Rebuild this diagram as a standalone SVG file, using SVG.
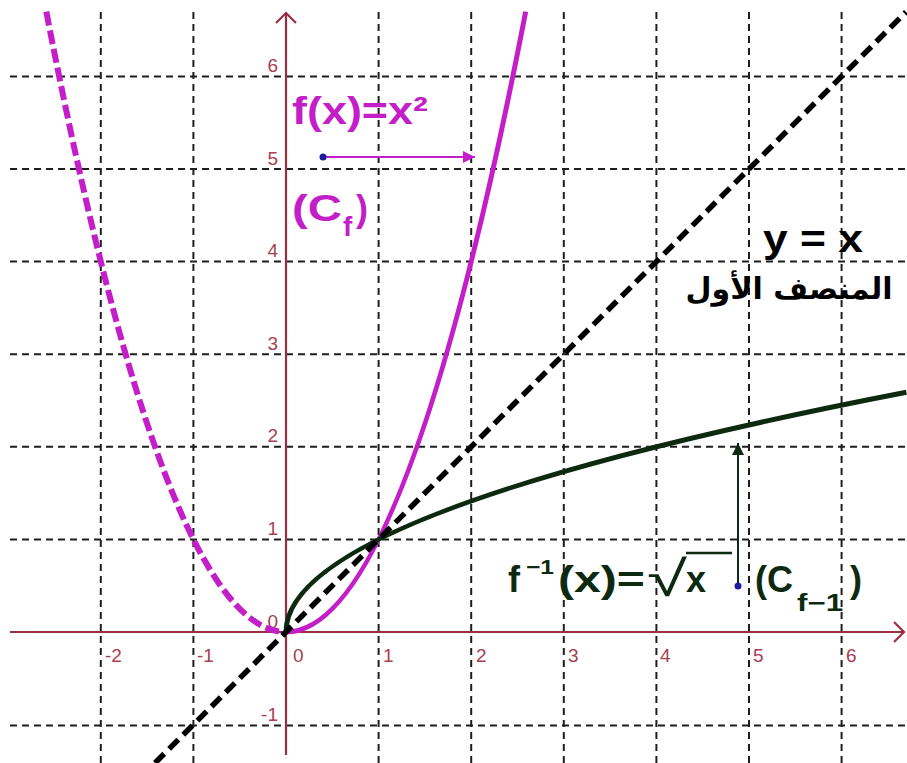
<svg xmlns="http://www.w3.org/2000/svg" width="907" height="763" viewBox="0 0 907 763">
<defs>
<style>
.grid{stroke:#1e1e1e;stroke-width:2;stroke-dasharray:7 5;fill:none}
.axis{stroke:#9a2f42;stroke-width:2.2;fill:none}
.tick{font-family:"Liberation Sans",Arial,sans-serif;font-size:19px;fill:#a8404f}
.mag{fill:#c41ec8;font-family:"Liberation Sans",Arial,sans-serif;font-weight:bold}
.grn{fill:#0d2a10;font-family:"Liberation Sans",Arial,sans-serif;font-weight:bold}
.blk{fill:#000;font-family:"Liberation Sans",Arial,sans-serif;font-weight:bold}
</style>
<marker id="ahM" viewBox="0 0 12 12" refX="12" refY="6" markerWidth="12" markerHeight="12" markerUnits="userSpaceOnUse" orient="auto">
<path d="M0,0 L12,6 L0,12 Z" fill="#c41ec8"/>
</marker>
<marker id="ahG" viewBox="0 0 12 12" refX="12" refY="6" markerWidth="14" markerHeight="12" markerUnits="userSpaceOnUse" orient="auto">
<path d="M0,0 L12,6 L0,12 Z" fill="#0d2a10"/>
</marker>
</defs>
<rect width="907" height="763" fill="#fff"/>
<g id="grid">
<line class="grid" x1="100.8" y1="12" x2="100.8" y2="763"/>
<line class="grid" x1="193.4" y1="12" x2="193.4" y2="763"/>
<line class="grid" x1="378.6" y1="12" x2="378.6" y2="763"/>
<line class="grid" x1="471.2" y1="12" x2="471.2" y2="763"/>
<line class="grid" x1="563.8" y1="12" x2="563.8" y2="763"/>
<line class="grid" x1="656.4" y1="12" x2="656.4" y2="763"/>
<line class="grid" x1="749" y1="12" x2="749" y2="763"/>
<line class="grid" x1="841.6" y1="12" x2="841.6" y2="763"/>
<line class="grid" x1="10" y1="76.4" x2="907" y2="76.4"/>
<line class="grid" x1="10" y1="169" x2="907" y2="169"/>
<line class="grid" x1="10" y1="261.6" x2="907" y2="261.6"/>
<line class="grid" x1="10" y1="354.2" x2="907" y2="354.2"/>
<line class="grid" x1="10" y1="446.8" x2="907" y2="446.8"/>
<line class="grid" x1="10" y1="539.4" x2="907" y2="539.4"/>
<line class="grid" x1="10" y1="725.6" x2="907" y2="725.6"/>
</g>
<g id="axes">
<line class="axis" x1="10" y1="632" x2="904" y2="632"/>
<path class="axis" d="M894,622 L904,632 L894,642"/>
<line class="axis" x1="286" y1="755" x2="286" y2="13"/>
<path class="axis" d="M276,23 L286,13 L296,23"/>
<g class="tick">
<text x="105" y="662">-2</text>
<text x="197" y="662">-1</text>
<text x="293" y="662">0</text>
<text x="383" y="662">1</text>
<text x="476" y="662">2</text>
<text x="568" y="662">3</text>
<text x="660" y="662">4</text>
<text x="753" y="662">5</text>
<text x="846" y="662">6</text>
<g text-anchor="end">
<text x="278" y="72">6</text>
<text x="278" y="165">5</text>
<text x="278" y="257">4</text>
<text x="278" y="350">3</text>
<text x="278" y="442">2</text>
<text x="278" y="535">1</text>
<text x="278" y="628">0</text>
<text x="278" y="721">-1</text>
</g>
</g>
</g>
<g id="connectors">
<path id="curve-f-neg" d="M46.3,11.6 Q166.2,632 286,632" fill="none" stroke="#c41ec8" stroke-width="6" stroke-dasharray="14 5"/>
<path id="curve-f" d="M286,632 Q405.8,632 525.7,11.6" fill="none" stroke="#c41ec8" stroke-width="5"/>
<path id="curve-finv" d="M286,632 Q286,512.2 906.4,392.3" fill="none" stroke="#0d2a10" stroke-width="5"/>
<line id="line-yx" x1="155" y1="763" x2="906" y2="12" stroke="#000" stroke-width="5.5" stroke-dasharray="13 7"/>
<line id="arrow-f" x1="323" y1="157" x2="475" y2="157" stroke="#c41ec8" stroke-width="2" marker-end="url(#ahM)"/>
<line id="arrow-finv" x1="738" y1="586" x2="738" y2="443" stroke="#0d2a10" stroke-width="2" marker-end="url(#ahG)"/>
</g>
<g id="label-f">
<text class="mag" x="292" y="124" font-size="38" textLength="136" lengthAdjust="spacingAndGlyphs">f(x)=x²</text>
<circle cx="323" cy="157" r="3.5" fill="#1c1c9c"/>
<text class="mag" x="292" y="221" font-size="36" textLength="50" lengthAdjust="spacingAndGlyphs">(C</text>
<text class="mag" x="343" y="236" font-size="28">f</text>
<text class="mag" x="356" y="221" font-size="36">)</text>
</g>
<g id="label-yx">
<text class="blk" x="763" y="252" font-size="38" textLength="100" lengthAdjust="spacingAndGlyphs">y = x</text>
<text x="789" y="299" font-size="30" font-weight="bold" font-family="'DejaVu Sans',sans-serif" text-anchor="middle" direction="rtl">المنصف الأول</text>
</g>
<g id="label-finv">
<text class="grn" x="508" y="592" font-size="36">f</text>
<text class="grn" x="526" y="574" font-size="20" textLength="28" lengthAdjust="spacingAndGlyphs">−1</text>
<text class="grn" x="558" y="592" font-size="36" textLength="87" lengthAdjust="spacingAndGlyphs">(x)=</text>
<text x="647" y="596" font-size="50" font-family="'Liberation Sans',Arial,sans-serif" fill="#0d2a10" textLength="40" lengthAdjust="spacingAndGlyphs">√</text>
<line x1="686" y1="553" x2="732" y2="553" stroke="#0d2a10" stroke-width="2.5"/>
<text class="grn" x="686" y="592" font-size="36">x</text>
<circle cx="738" cy="586" r="3.5" fill="#1c1c9c"/>
<text class="grn" x="755" y="592" font-size="36" textLength="38" lengthAdjust="spacingAndGlyphs">(C</text>
<text class="grn" x="797" y="611" font-size="24" textLength="46" lengthAdjust="spacingAndGlyphs">f−1</text>
<text class="grn" x="850" y="592" font-size="36">)</text>
</g>
</svg>
